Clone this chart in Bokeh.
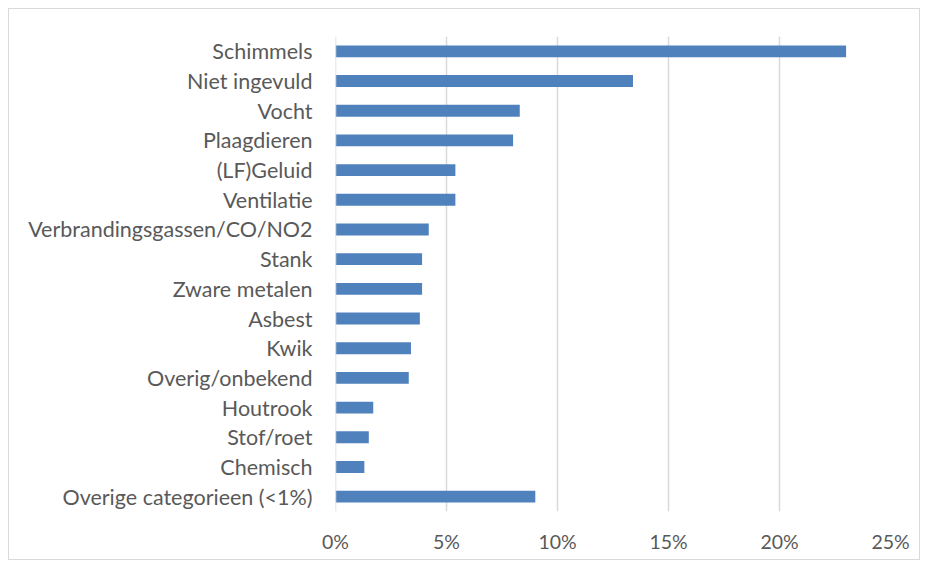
from bokeh.plotting import figure
from bokeh.models import FactorRange, FixedTicker, NumeralTickFormatter, Span, ColumnDataSource
from bokeh.embed import file_html
from bokeh.resources import INLINE

categories = ["Schimmels", "Niet ingevuld", "Vocht", "Plaagdieren", "(LF)Geluid", "Ventilatie",
              "Verbrandingsgassen/CO/NO2", "Stank", "Zware metalen", "Asbest", "Kwik",
              "Overig/onbekend", "Houtrook", "Stof/roet", "Chemisch", "Overige categorieen (<1%)"]
values = [0.230, 0.134, 0.083, 0.080, 0.054, 0.054, 0.042, 0.039, 0.039, 0.038, 0.034,
          0.033, 0.017, 0.015, 0.013, 0.090]
x_ticks = [0, 0.05, 0.10, 0.15, 0.20, 0.25]

src = ColumnDataSource(dict(cat=categories, val=values))

p = figure(width=912, height=552, output_backend="svg", toolbar_location=None,
           y_range=FactorRange(*reversed(categories)), x_range=(0, 0.25),
           min_border_left=326, min_border_right=31, min_border_top=27, min_border_bottom=50)
p.margin = (8, 7, 7, 8)
p.styles = {"border": "1.5px solid #d9d9d9", "box-sizing": "border-box"}

grid_color = "#d9d9d9"
p.add_layout(Span(location=0, dimension="height", line_color=grid_color, line_width=1.5))
p.hbar(y="cat", right="val", left=0, height=0.4, source=src, color="#4f81bd", line_color=None)

txt = "#595959"
font = "Lato"
p.outline_line_color = None
p.xaxis.ticker = FixedTicker(ticks=x_ticks)
p.xaxis.formatter = NumeralTickFormatter(format="0%")
p.xaxis.axis_line_color = None
p.xaxis.major_tick_line_color = None
p.xaxis.minor_tick_line_color = None
p.xaxis.major_label_text_font = font
p.xaxis.major_label_text_font_size = "19.5px"
p.xaxis.major_label_text_color = txt
p.xaxis.major_label_standoff = 12

p.yaxis.axis_line_color = None
p.yaxis.major_tick_line_color = None
p.yaxis.minor_tick_line_color = None
p.yaxis.major_label_text_font = font
p.yaxis.major_label_text_font_size = "21.5px"
p.yaxis.major_label_text_color = txt
p.yaxis.major_label_standoff = 17

p.xgrid.ticker = FixedTicker(ticks=x_ticks)
p.xgrid.grid_line_color = grid_color
p.xgrid.grid_line_width = 1.5
p.ygrid.grid_line_color = None

open("out.html", "w").write(file_html(p, INLINE))
